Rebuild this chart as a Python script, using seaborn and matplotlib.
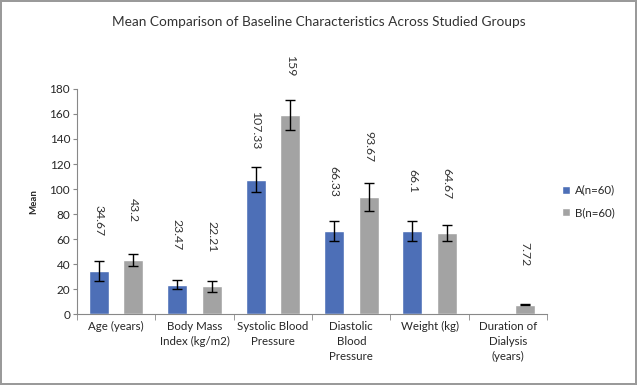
import numpy as np
import pandas as pd
import matplotlib
matplotlib.use("Agg")
import matplotlib.pyplot as plt
import seaborn as sns

# ------------------------------------------------------------
# DATA
# ------------------------------------------------------------

categories = ["Age (years)", "Body Mass\nIndex (kg/m2)", "Systolic Blood\nPressure",
              "Diastolic\nBlood\nPressure", "Weight (kg)", "Duration of\nDialysis\n(years)"]
group_a = [34.67, 23.47, 107.33, 66.33, 66.1, np.nan]
group_b = [43.2, 22.21, 159, 93.67, 64.67, 7.72]
err_a = [8, 3.5, 10, 8, 8, np.nan]
err_b = [4.5, 4.5, 12, 11, 6.5, 0.5]
label_a = ["34.67", "23.47", "107.33", "66.33", "66.1", ""]
label_b = ["43.2", "22.21", "159", "93.67", "64.67", "7.72"]
groups = ["A(n=60)", "B(n=60)"]

df = pd.DataFrame({
    "cat": categories * 2,
    "group": [groups[0]] * 6 + [groups[1]] * 6,
    "mean": group_a + group_b,
})

# ------------------------------------------------------------
# PLOT
# ------------------------------------------------------------

sns.set_style("white")
plt.rcParams["font.family"] = ["Lato", "DejaVu Sans"]

fig = plt.figure(figsize=(6.37, 3.85), dpi=100)
fig.patch.set_edgecolor("#9a9a9a")
fig.patch.set_linewidth(1.5)
ax = fig.add_axes([0.121, 0.184, 0.738, 0.585])

palette = {groups[0]: "#3c69c8", groups[1]: "#a3a3a3"}
sns.barplot(data=df, x="cat", y="mean", hue="group", palette=palette,
            width=0.88, gap=0.42, ax=ax, errorbar=None, legend=True)

# error bars and rotated value labels
offsets = {groups[0]: -0.22, groups[1]: 0.22}
for g, vals, errs, labs in [(groups[0], group_a, err_a, label_a),
                            (groups[1], group_b, err_b, label_b)]:
    for i, (v, e, lab) in enumerate(zip(vals, errs, labs)):
        if np.isnan(v):
            continue
        x = i + offsets[g]
        ax.errorbar(x, v, yerr=e, fmt="none", ecolor="black", elinewidth=1,
                    capsize=3.5, capthick=1)
        ax.annotate(lab, (x, v), xytext=(0, 36), textcoords="offset points",
                    rotation=270, ha="center", va="center", fontsize=8.8,
                    color="#333333")

ax.set_ylim(0, 180)
ax.set_xlim(-0.5, 5.5)
ax.set_yticks(range(0, 181, 20))
ax.set_xlabel("")
ax.set_ylabel("Mean", fontsize=7, fontweight="bold", labelpad=8)
ax.tick_params(axis="y", labelsize=8.5, length=3, color="#888888", left=True, pad=2)
ax.tick_params(axis="x", labelsize=8.3, length=0, pad=5)
for t in ax.get_xticklabels():
    t.set_linespacing(1.45)
    t.set_verticalalignment("top")
ax.set_xticks(np.arange(-0.5, 6, 1), minor=True)
ax.tick_params(axis="x", which="minor", length=4, color="#888888", bottom=True)

sns.despine(ax=ax)
for s in ["left", "bottom"]:
    ax.spines[s].set_color("#888888")
    ax.spines[s].set_linewidth(0.8)

leg = ax.legend(loc="center left", bbox_to_anchor=(1.01, 0.5), frameon=False,
                fontsize=8.3, handlelength=0.7, handleheight=0.7, handletextpad=0.4,
                labelspacing=1.0)

fig.text(0.5, 0.943, "Mean Comparison of Baseline Characteristics Across Studied Groups",
         ha="center", va="center", fontsize=9.8, color="#333333")

plt.savefig("out.png", dpi=100)
